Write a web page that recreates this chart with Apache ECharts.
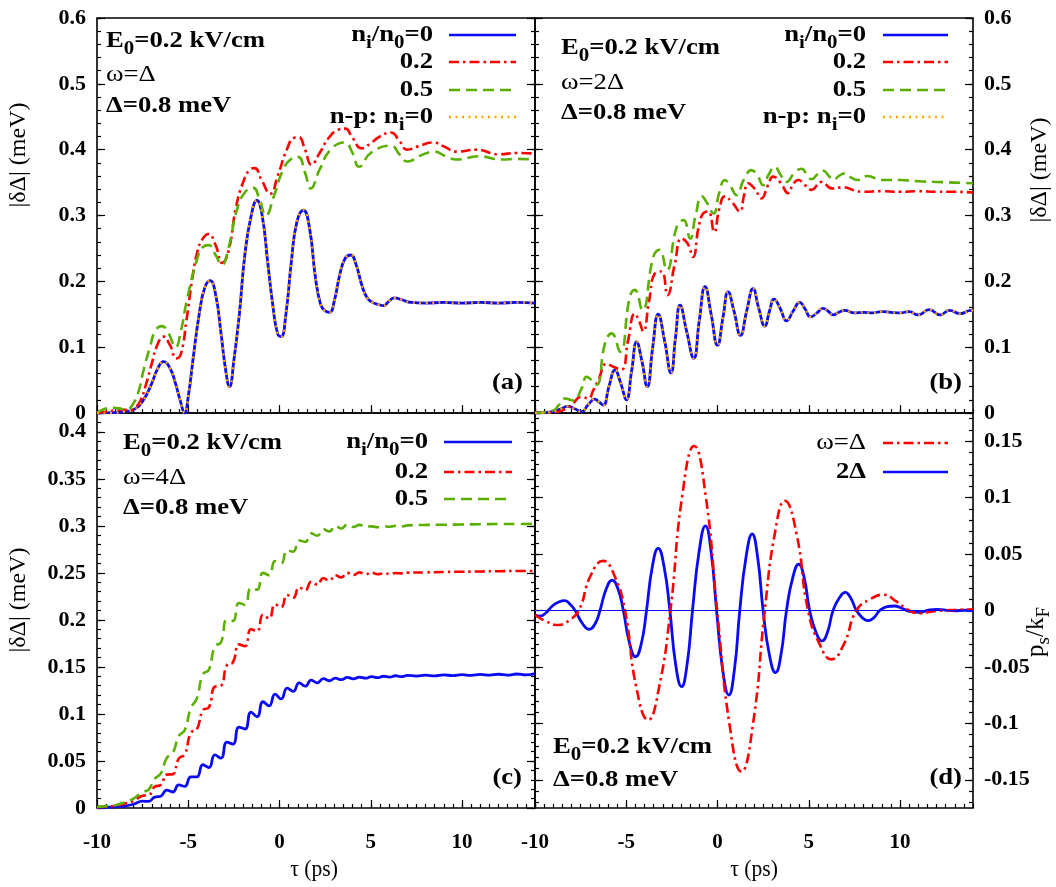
<!DOCTYPE html>
<html><head><meta charset="utf-8">
<script src="https://cdn.jsdelivr.net/npm/echarts@6/dist/echarts.min.js"></script>
<style>html,body{margin:0;padding:0;background:#fff}#c{width:1056px;height:887px}</style>
</head><body><div id="c"></div>
<script>
// ---------- tick labels ----------
const xTicks = [-10, -5, 0, 5, 10];
const yTicksAB = [0, 0.1, 0.2, 0.3, 0.4, 0.5, 0.6];
const yTicksC = [0, 0.05, 0.1, 0.15, 0.2, 0.25, 0.3, 0.35, 0.4];
const yTicksD = [-0.15, -0.1, -0.05, 0, 0.05, 0.1, 0.15];

// ---------- panel (a): omega = Delta ----------
const aBlue = [[-10,0],[-9,0.0005],[-8.5,0.002],[-8,0.005],[-7.5,0.018],[-7,0.045],[-6.7,0.066],[-6.35,0.078],[-6,0.068],[-5.7,0.045],[-5.45,0.02],[-5.2,0],[-5,0.025],[-4.7,0.09],[-4.4,0.15],[-4.1,0.19],[-3.8,0.201],[-3.5,0.18],[-3.2,0.12],[-2.95,0.065],[-2.74,0.04],[-2.5,0.08],[-2.2,0.15],[-1.9,0.24],[-1.55,0.30],[-1.24,0.323],[-0.95,0.30],[-0.65,0.23],[-0.35,0.16],[-0.1,0.12],[0.09,0.116],[0.35,0.15],[0.65,0.23],[0.95,0.29],[1.31,0.308],[1.65,0.28],[1.95,0.21],[2.25,0.165],[2.5,0.155],[2.75,0.153],[3.0,0.17],[3.3,0.21],[3.6,0.235],[3.9,0.24],[4.2,0.225],[4.5,0.195],[4.8,0.175],[5.1,0.168],[5.4,0.165],[5.7,0.163],[6.0,0.17],[6.3,0.175],[6.7,0.172],[7.2,0.168],[8,0.167],[9,0.168],[10,0.167],[11,0.168],[12,0.167],[13,0.168],[14,0.167]];
const aRed = [[-10,0],[-9.5,0.002],[-9,0.004],[-8.5,0.005],[-8.2,0.004],[-7.9,0.008],[-7.63,0.018],[-7.3,0.045],[-7.0,0.075],[-6.7,0.103],[-6.35,0.116],[-6.0,0.103],[-5.65,0.083],[-5.4,0.09],[-5.1,0.14],[-4.8,0.2],[-4.5,0.245],[-4.2,0.265],[-3.9,0.272],[-3.5,0.255],[-3.15,0.228],[-2.8,0.245],[-2.4,0.31],[-2.0,0.35],[-1.6,0.37],[-1.35,0.372],[-1.0,0.355],[-0.5,0.333],[-0.1,0.36],[0.4,0.4],[0.8,0.418],[1.05,0.419],[1.4,0.4],[1.75,0.377],[2.2,0.395],[2.7,0.418],[3.2,0.43],[3.6,0.432],[4.0,0.418],[4.5,0.402],[5.0,0.41],[5.5,0.42],[6.1,0.426],[6.6,0.412],[7.0,0.4],[7.6,0.405],[8.4,0.411],[9.0,0.405],[9.7,0.397],[10.8,0.4],[12,0.393],[13,0.395],[14,0.394]];
const aGreen = [[-10,0],[-9.6,0.006],[-9.2,0.008],[-8.8,0.007],[-8.4,0.005],[-8.0,0.015],[-7.7,0.035],[-7.45,0.065],[-7.1,0.1],[-6.8,0.125],[-6.44,0.132],[-6.1,0.122],[-5.7,0.1],[-5.4,0.125],[-5.07,0.172],[-4.53,0.232],[-4.2,0.252],[-3.89,0.255],[-3.5,0.24],[-3.16,0.225],[-2.8,0.25],[-2.34,0.308],[-1.9,0.335],[-1.44,0.342],[-1.1,0.325],[-0.75,0.3],[-0.3,0.33],[0.2,0.37],[0.6,0.385],[1.02,0.389],[1.4,0.365],[1.71,0.341],[2.2,0.37],[2.8,0.4],[3.57,0.411],[4.0,0.395],[4.36,0.374],[5.0,0.395],[6.1,0.406],[6.6,0.392],[7.0,0.382],[7.8,0.392],[8.5,0.397],[9.1,0.39],[9.7,0.385],[10.9,0.39],[12.2,0.385],[13,0.386],[14,0.385]];

// ---------- panel (b): omega = 2 Delta ----------
const bBlue = [[-10,0],[-9,0.002],[-8.6,0.006],[-8.18,0.01],[-7.8,0.006],[-7.45,0.002],[-7.1,0.012],[-6.72,0.021],[-6.5,0.017],[-6.26,0.012],[-5.95,0.04],[-5.62,0.065],[-5.3,0.045],[-5.0,0.02],[-4.7,0.065],[-4.43,0.108],[-4.15,0.08],[-3.85,0.04],[-3.55,0.1],[-3.25,0.15],[-2.9,0.11],[-2.55,0.061],[-2.3,0.115],[-2.05,0.164],[-1.7,0.125],[-1.3,0.083],[-1.0,0.14],[-0.68,0.192],[-0.35,0.15],[0.0,0.103],[0.3,0.145],[0.58,0.184],[0.9,0.155],[1.26,0.118],[1.6,0.155],[1.95,0.189],[2.25,0.16],[2.59,0.132],[2.85,0.155],[3.1,0.173],[3.45,0.158],[3.78,0.14],[4.15,0.155],[4.5,0.168],[4.8,0.158],[5.1,0.146],[5.45,0.152],[5.78,0.159],[6.05,0.155],[6.33,0.149],[6.65,0.153],[6.97,0.156],[7.5,0.152],[8.0,0.153],[8.5,0.152],[9.0,0.154],[9.5,0.153],[10.0,0.152],[10.5,0.154],[11.0,0.149],[11.6,0.157],[12.2,0.149],[12.7,0.156],[13.3,0.151],[13.9,0.156],[14,0.155]];
const bRed = [[-10,0],[-9,0.001],[-8.5,0.004],[-8.0,0.012],[-7.45,0.025],[-7.08,0.022],[-6.8,0.035],[-6.53,0.05],[-6.07,0.075],[-5.7,0.07],[-5.26,0.066],[-4.9,0.11],[-4.53,0.151],[-4.3,0.14],[-4.07,0.124],[-3.75,0.17],[-3.43,0.212],[-3.07,0.215],[-2.74,0.179],[-2.35,0.225],[-1.97,0.265],[-1.65,0.258],[-1.34,0.237],[-1.05,0.28],[-0.79,0.303],[-0.51,0.306],[-0.18,0.275],[0.1,0.31],[0.4,0.329],[0.8,0.32],[1.22,0.306],[1.45,0.33],[1.68,0.349],[2.05,0.34],[2.41,0.326],[2.75,0.345],[3.05,0.359],[3.45,0.35],[3.87,0.334],[4.15,0.348],[4.42,0.354],[4.8,0.346],[5.15,0.339],[5.69,0.351],[6.3,0.341],[6.9,0.343],[7.5,0.338],[8.0,0.336],[9,0.337],[10,0.336],[11,0.337],[12,0.336],[13,0.336],[14,0.335]];
const bGreen = [[-10,0],[-9,0.004],[-8.7,0.012],[-8.36,0.022],[-7.9,0.019],[-7.45,0.037],[-7.17,0.055],[-6.9,0.05],[-6.62,0.043],[-6.16,0.106],[-5.8,0.121],[-5.34,0.093],[-4.8,0.177],[-4.53,0.187],[-4.12,0.156],[-3.52,0.237],[-3.19,0.248],[-2.78,0.217],[-2.23,0.283],[-1.86,0.293],[-1.5,0.265],[-1.2,0.3],[-0.86,0.329],[-0.55,0.318],[-0.22,0.303],[0.1,0.335],[0.4,0.354],[0.7,0.345],[1.04,0.331],[1.45,0.355],[1.86,0.369],[2.2,0.36],[2.5,0.346],[2.8,0.362],[3.14,0.374],[3.45,0.362],[3.78,0.351],[4.2,0.364],[4.6,0.371],[4.9,0.362],[5.15,0.355],[5.5,0.363],[5.8,0.368],[6.1,0.36],[6.36,0.354],[6.65,0.36],[6.97,0.364],[7.3,0.358],[7.7,0.354],[8.2,0.36],[9.0,0.354],[10,0.354],[11,0.352],[12,0.351],[13,0.35],[14,0.349]];

// ---------- panel (c): omega = 4 Delta ----------
const cBlue = [[-10,0.0005],[-9.5,0.0008],[-9,0.0012],[-8.5,0.002],[-8,0.004],[-7.5,0.0073],[-7.17,0.007],[-6.84,0.0115],[-6.51,0.0125],[-6.18,0.019],[-5.85,0.017],[-5.52,0.0245],[-5.19,0.023],[-4.86,0.033],[-4.53,0.033],[-4.2,0.046],[-3.87,0.043],[-3.54,0.0565],[-3.21,0.053],[-2.88,0.07],[-2.55,0.068],[-2.22,0.086],[-1.89,0.084],[-1.56,0.102],[-1.23,0.097],[-0.9,0.113],[-0.57,0.1085],[-0.24,0.121],[0.09,0.116],[0.42,0.1275],[0.75,0.124],[1.08,0.133],[1.41,0.1295],[1.74,0.136],[2.07,0.133],[2.4,0.1375],[2.73,0.1353],[3.06,0.138],[3.39,0.1365],[3.72,0.1388],[4.05,0.1374],[4.38,0.1392],[4.71,0.1381],[5.04,0.1396],[5.37,0.1386],[5.7,0.1401],[6.03,0.1392],[6.36,0.1406],[6.69,0.1396],[7.02,0.1411],[7.5,0.1403],[8,0.1412],[8.5,0.1405],[9,0.1415],[9.5,0.1408],[10,0.1418],[10.5,0.141],[11,0.142],[11.5,0.1412],[12,0.1422],[12.5,0.1413],[13,0.1425],[13.5,0.1415],[14,0.1428]];
const cRed = [[-10,0.0008],[-9.5,0.0015],[-9,0.0025],[-8.5,0.0045],[-8,0.0075],[-7.5,0.013],[-7.17,0.0138],[-6.84,0.0225],[-6.51,0.0245],[-6.18,0.0355],[-5.85,0.036],[-5.52,0.0525],[-5.19,0.057],[-4.86,0.08],[-4.53,0.0835],[-4.2,0.104],[-3.87,0.107],[-3.54,0.129],[-3.21,0.13],[-2.88,0.152],[-2.55,0.155],[-2.22,0.174],[-1.89,0.172],[-1.56,0.19],[-1.23,0.188],[-0.9,0.2055],[-0.57,0.2015],[-0.24,0.2165],[0.09,0.2135],[0.42,0.2265],[0.75,0.2235],[1.08,0.2345],[1.41,0.2315],[1.74,0.2405],[2.07,0.2375],[2.4,0.2443],[2.73,0.2418],[3.06,0.2475],[3.39,0.2452],[3.72,0.25],[4.05,0.2478],[4.38,0.2505],[4.71,0.2485],[5.04,0.2503],[5.37,0.2485],[5.7,0.2495],[6.03,0.249],[6.36,0.2498],[6.69,0.2495],[7.02,0.2502],[8,0.2505],[9,0.251],[10,0.2512],[11,0.2515],[12,0.2518],[13,0.252],[14,0.252]];
const cGreen = [[-10,0.001],[-9.5,0.002],[-9,0.003],[-8.5,0.006],[-8,0.01],[-7.5,0.017],[-7.17,0.0195],[-6.84,0.031],[-6.51,0.0365],[-6.18,0.053],[-5.85,0.0585],[-5.52,0.0765],[-5.19,0.083],[-4.86,0.106],[-4.53,0.1165],[-4.2,0.142],[-3.87,0.147],[-3.54,0.172],[-3.21,0.176],[-2.88,0.2],[-2.55,0.199],[-2.22,0.218],[-1.89,0.216],[-1.56,0.234],[-1.23,0.232],[-0.9,0.25],[-0.57,0.2475],[-0.24,0.2625],[0.09,0.26],[0.42,0.274],[0.75,0.2725],[1.08,0.2845],[1.41,0.283],[1.74,0.292],[2.07,0.2895],[2.4,0.2965],[2.73,0.294],[3.06,0.3],[3.39,0.2972],[3.72,0.3015],[4.05,0.2988],[4.38,0.301],[4.71,0.299],[5.04,0.2995],[5.37,0.2985],[5.7,0.2995],[6.03,0.299],[6.36,0.3],[6.69,0.2995],[7.02,0.3005],[8,0.301],[9,0.3012],[10,0.3015],[11,0.3017],[12,0.302],[13,0.302],[14,0.3022]];

// ---------- panel (d): p_s / k_F ----------
const dRed = [[-10,-0.004],[-9.4,-0.0095],[-8.72,-0.0128],[-8.15,-0.009],[-7.6,0],[-6.95,0.031],[-6.26,0.044],[-5.65,0.031],[-5.07,0],[-4.45,-0.068],[-3.8,-0.097],[-3.2,-0.068],[-2.58,0],[-1.93,0.102],[-1.28,0.1457],[-0.65,0.102],[-0.02,0],[0.65,-0.1],[1.31,-0.1428],[1.95,-0.1],[2.59,0],[3.14,0.068],[3.69,0.0973],[4.33,0.068],[4.96,0],[5.6,-0.03],[6.24,-0.0433],[6.92,-0.03],[7.61,0],[8.35,0.0098],[9.1,0.014],[9.8,0.008],[10.5,0],[11.1,-0.0025],[11.7,-0.001],[12.3,0],[13,0.0005],[14,0.001]];
const dBlue = [[-10,-0.004],[-9.73,-0.005],[-9.4,-0.002],[-9.05,0.004],[-8.7,0.0075],[-8.36,0.0087],[-8.05,0.005],[-7.8,0],[-7.4,-0.0115],[-7.04,-0.0167],[-6.7,-0.0115],[-6.44,0],[-6.1,0.019],[-5.77,0.027],[-5.45,0.019],[-5.16,0],[-4.82,-0.029],[-4.49,-0.041],[-4.17,-0.029],[-3.89,0],[-3.57,0.039],[-3.25,0.055],[-2.93,0.039],[-2.61,0],[-2.3,-0.047],[-1.97,-0.0675],[-1.66,-0.047],[-1.37,0],[-1.01,0.052],[-0.66,0.075],[-0.35,0.052],[-0.05,0],[0.28,-0.052],[0.62,-0.0749],[0.93,-0.052],[1.22,0],[1.56,0.047],[1.9,0.0678],[2.2,0.047],[2.5,0],[2.84,-0.039],[3.18,-0.055],[3.48,-0.039],[3.78,0],[4.12,0.029],[4.45,0.041],[4.75,0.029],[5.05,0],[5.39,-0.019],[5.73,-0.027],[6.03,-0.019],[6.33,0],[6.67,0.011],[7.0,0.016],[7.3,0.011],[7.61,0],[7.93,-0.0063],[8.25,-0.009],[8.57,-0.0063],[8.89,0],[9.3,0.0035],[9.7,0.004],[10.1,0.002],[10.6,-0.001],[11.1,-0.0016],[11.5,0],[12.0,0.001],[12.5,0.0003],[13,-0.0002],[13.5,0.0002],[14,0]];

// ---------- rendering ----------
const FONT = 'Liberation Serif';
const BLUE = '#0a0af5', RED = '#ff0000', GREEN = '#5aaf00', ORANGE = '#ffa500';
const DASHDOT = [10, 4, 2.5, 4], DASH = [11, 6], DOT = [2, 4.5];
const fmt = v => String(Math.round(v * 1000) / 1000);
function range(a, b, s) { const r = []; const n = Math.round((b - a) / s); for (let i = 0; i <= n; i++) r.push(Math.round((a + i * s) * 1e6) / 1e6); return r; }
const xMinor = range(-10, 14, 0.5);
const yMinorAB = range(0, 0.6, 0.02);
const yMinorC = range(0, 0.42, 0.01);
const yMinorD = range(-0.17, 0.17, 0.01);

const grids = [
  { left: 97, top: 18, width: 438, height: 395 },
  { left: 535, top: 18, width: 438, height: 395 },
  { left: 97, top: 413, width: 438, height: 395 },
  { left: 535, top: 413, width: 438, height: 395 }
].map(g => Object.assign(g, { show: true, borderColor: '#000', borderWidth: 1.6, backgroundColor: 'transparent' }));

function axis(kind, grid, pos, min, max, ticks, len, labels) {
  const o = {
    type: 'value', gridIndex: grid, position: pos, min, max,
    axisLine: { show: false, onZero: false }, splitLine: { show: false },
    axisTick: { show: true, inside: true, length: len, customValues: ticks, lineStyle: { color: '#000', width: 1.2 } },
    axisLabel: { show: false }
  };
  if (labels) o.axisLabel = {
    show: true, customValues: ticks, formatter: fmt, margin: kind === 'x' ? 24 : 11,
    fontFamily: FONT, fontWeight: 'bold', fontSize: kind === 'x' ? 21 : 22, color: '#000'
  };
  return o;
}
const xAxis = [], yAxis = [];
// x axes: main (index 2g), minor (2g+1)
for (let g = 0; g < 4; g++) {
  xAxis.push(axis('x', g, 'bottom', -10, 14, xTicks, 8, g >= 2));
  xAxis.push(axis('x', g, 'bottom', -10, 14, xMinor, 4, false));
}
const yCfg = [
  { min: 0, max: 0.6, maj: yTicksAB, min2: yMinorAB, side: 'left' },
  { min: 0, max: 0.6, maj: yTicksAB, min2: yMinorAB, side: 'right' },
  { min: 0, max: 0.42, maj: yTicksC, min2: yMinorC, side: 'left' },
  { min: -0.175, max: 0.175, maj: yTicksD, min2: yMinorD, side: 'right' }
];
// y axes: main labelled (4g), minor (4g+1), mirror main (4g+2), mirror minor (4g+3)
yCfg.forEach((c, g) => {
  const other = c.side === 'left' ? 'right' : 'left';
  yAxis.push(axis('y', g, c.side, c.min, c.max, c.maj, 8, true));
  yAxis.push(axis('y', g, c.side, c.min, c.max, c.min2, 4, false));
  yAxis.push(axis('y', g, other, c.min, c.max, c.maj, 8, false));
  yAxis.push(axis('y', g, other, c.min, c.max, c.min2, 4, false));
});

function line(g, data, color, dash, width, z, extra) {
  return Object.assign({
    type: 'line', xAxisIndex: 2 * g, yAxisIndex: 4 * g, data, showSymbol: false, smooth: 0.5,
    silent: true, z,
    lineStyle: { color, width, type: dash || 'solid' }, itemStyle: { color }
  }, extra || {});
}
const series = [
  line(0, aBlue, BLUE, null, 2.8, 3), line(0, aRed, RED, DASHDOT, 2.6, 4), line(0, aGreen, GREEN, DASH, 2.6, 4), line(0, aBlue, ORANGE, DOT, 2.4, 5),
  line(1, bBlue, BLUE, null, 2.8, 3), line(1, bRed, RED, DASHDOT, 2.6, 4), line(1, bGreen, GREEN, DASH, 2.6, 4), line(1, bBlue, ORANGE, DOT, 2.4, 5),
  line(2, cBlue, BLUE, null, 2.8, 3), line(2, cRed, RED, DASHDOT, 2.6, 4), line(2, cGreen, GREEN, DASH, 2.6, 4),
  line(3, dRed, RED, DASHDOT, 2.6, 4),
  line(3, dBlue, BLUE, null, 2.8, 3, { markLine: { silent: true, symbol: 'none', label: { show: false }, lineStyle: { color: BLUE, width: 1, type: 'solid' }, data: [{ yAxis: 0 }] } })
];

const RICH = {
  b: { fontFamily: FONT, fontWeight: 'bold', fontSize: 23, lineHeight: 34, verticalAlign: 'middle', fill: '#000' },
  bs: { fontFamily: FONT, fontWeight: 'bold', fontSize: 18, lineHeight: 16, verticalAlign: 'bottom', fill: '#000' },
  r: { fontFamily: FONT, fontWeight: 'normal', fontSize: 23, lineHeight: 34, verticalAlign: 'middle', fill: '#000' },
  rs: { fontFamily: FONT, fontWeight: 'normal', fontSize: 18, lineHeight: 16, verticalAlign: 'bottom', fill: '#000' },
  t: { fontFamily: FONT, fontWeight: 'normal', fontSize: 24, lineHeight: 28, verticalAlign: 'middle', fill: '#000' },
  p: { fontFamily: FONT, fontWeight: 'normal', fontSize: 25, lineHeight: 36, verticalAlign: 'middle', fill: '#000' },
  ps: { fontFamily: FONT, fontWeight: 'normal', fontSize: 19, lineHeight: 16, verticalAlign: 'bottom', fill: '#000' }
};
function T(x, y, text, align, sx, rot) {
  return { type: 'text', x, y, scaleX: sx || 1, rotation: rot || 0, z: 100,
    style: { text, rich: RICH, textAlign: align, textVerticalAlign: 'middle', fill: '#000', fontFamily: FONT, fontSize: 22 } };
}
function L(x1, x2, y, color, dash, w) {
  return { type: 'line', z: 100, shape: { x1, y1: y, x2, y2: y }, style: { stroke: color, lineWidth: w || 2.6, lineDash: dash || null } };
}
const SX = 1.16;
const E0 = '{b|E}{bs|0}{b|=0.2 kV/cm}';
const DEL = '{b|Δ=0.8 meV}';
const NI = '{b|n}{bs|i}{b|/n}{bs|0}{b|=0}';
const NP = '{b|n-p: n}{bs|i}{b|=0}';
const graphic = [
  // panel a
  T(106, 41, E0, 'left', SX), T(106, 75, '{r|ω=Δ}', 'left', SX), T(106, 106, DEL, 'left', SX),
  T(433, 35, NI, 'right', SX), T(433, 62, '{b|0.2}', 'right', SX), T(433, 90, '{b|0.5}', 'right', SX), T(433, 117, NP, 'right', SX),
  L(449, 516, 35, BLUE), L(449, 516, 62, RED, DASHDOT), L(449, 516, 90, GREEN, DASH), L(449, 516, 117, ORANGE, DOT, 2.4),
  T(523, 383, '{b|(a)}', 'right', SX),
  // panel b
  T(561, 48, E0, 'left', SX), T(561, 83, '{r|ω=2Δ}', 'left', SX), T(561, 113, DEL, 'left', SX),
  T(866, 35, NI, 'right', SX), T(866, 62, '{b|0.2}', 'right', SX), T(866, 90, '{b|0.5}', 'right', SX), T(866, 117, NP, 'right', SX),
  L(883, 948, 35, BLUE), L(883, 948, 62, RED, DASHDOT), L(883, 948, 90, GREEN, DASH), L(883, 948, 117, ORANGE, DOT, 2.4),
  T(962, 383, '{b|(b)}', 'right', SX),
  // panel c
  T(123, 443, E0, 'left', SX), T(123, 478, '{r|ω=4Δ}', 'left', SX), T(123, 508, DEL, 'left', SX),
  T(428, 442, NI, 'right', SX), T(428, 472, '{b|0.2}', 'right', SX), T(428, 499, '{b|0.5}', 'right', SX),
  L(444, 512, 442, BLUE), L(444, 512, 472, RED, DASHDOT), L(444, 512, 499, GREEN, DASH),
  T(522, 778, '{b|(c)}', 'right', SX),
  // panel d
  T(866, 443, '{r|ω=Δ}', 'right', SX), T(866, 472, '{b|2Δ}', 'right', SX),
  L(883, 948, 443, RED, DASHDOT), L(883, 948, 472, BLUE),
  T(553, 747, E0, 'left', SX), T(553, 780, DEL, 'left', SX),
  T(962, 778, '{b|(d)}', 'right', SX),
  // axis titles
  T(19, 155, '{t||δΔ| (meV)}', 'center', 1, Math.PI / 2),
  T(19, 600, '{t||δΔ| (meV)}', 'center', 1, Math.PI / 2),
  T(1040, 170, '{t||δΔ| (meV)}', 'center', 1, Math.PI / 2),
  T(1036, 632, '{p|p}{ps|s}{p|/k}{ps|F}', 'center', 1, Math.PI / 2),
  T(314, 870, '{t|τ (ps)}', 'center', 0.9),
  T(754, 870, '{t|τ (ps)}', 'center', 0.9)
];

const chart = echarts.init(document.getElementById('c'), null, { renderer: 'canvas' });
chart.setOption({ animation: false, backgroundColor: '#fff', grid: grids, xAxis, yAxis, series, graphic });
</script></body></html>
